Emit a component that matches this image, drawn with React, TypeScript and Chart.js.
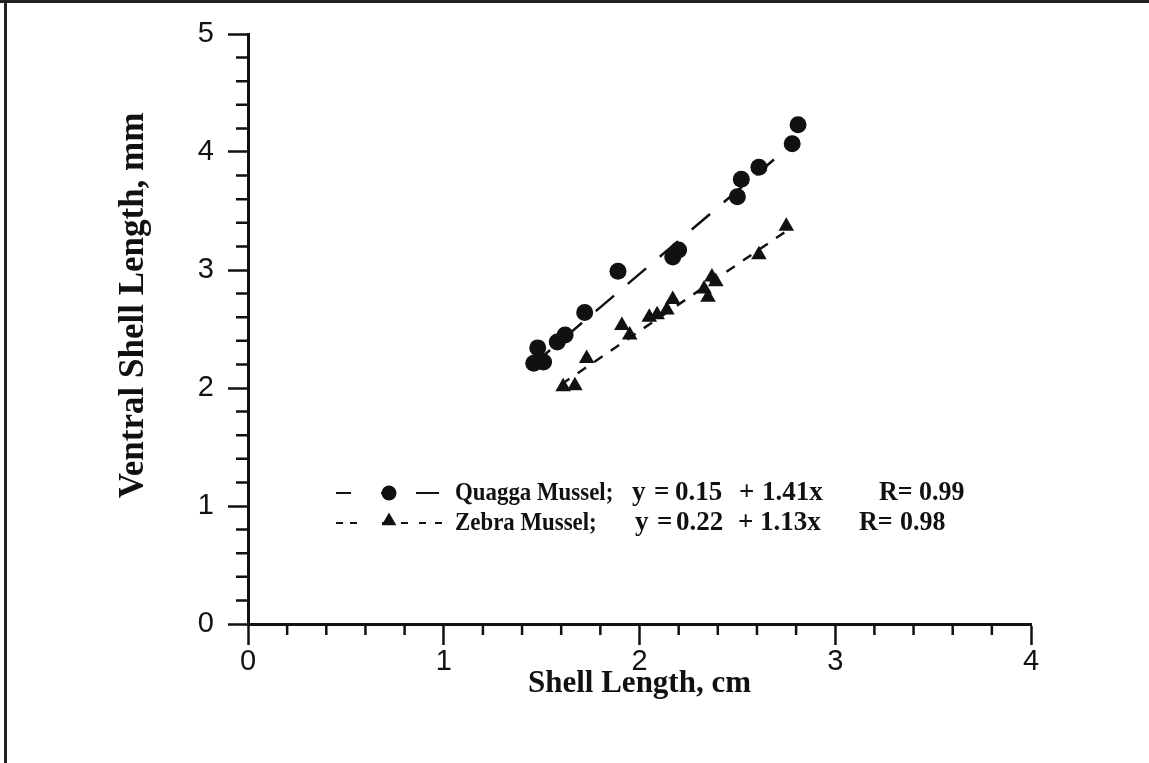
import React, { useEffect, useRef } from "react";
import { Chart, registerables } from "chart.js";

Chart.register(...registerables);

// ---- data ----
const quaggaLength = [1.46, 1.48, 1.51, 1.58, 1.62, 1.72, 1.89, 2.17, 2.2, 2.5, 2.52, 2.61, 2.78, 2.81];
const quaggaVentral = [2.21, 2.34, 2.22, 2.39, 2.45, 2.64, 2.99, 3.11, 3.17, 3.62, 3.77, 3.87, 4.07, 4.23];

const zebraLength = [1.61, 1.67, 1.73, 1.91, 1.95, 2.05, 2.09, 2.14, 2.17, 2.33, 2.35, 2.37, 2.39, 2.61, 2.75];
const zebraVentral = [2.01, 2.02, 2.25, 2.53, 2.45, 2.6, 2.62, 2.66, 2.75, 2.84, 2.77, 2.94, 2.9, 3.13, 3.37];

// regression line end points (as drawn)
const quaggaFitX = [1.45, 2.81];
const quaggaFitY = [2.19, 4.11];
const zebraFitX = [1.6, 2.75];
const zebraFitY = [2.03, 3.33];

const xMajorTicks = [0, 1, 2, 3, 4];
const yMajorTicks = [0, 1, 2, 3, 4, 5];
const minorStep = 0.2;

const xTitle = "Shell Length, cm";
const yTitle = "Ventral Shell Length, mm";

const legendNames = ["Quagga Mussel;", "Zebra Mussel;"];
const legendEquations = [
  ["y", "=", "0.15", "+", "1.41x"],
  ["y", "=", "0.22", "+", "1.13x"],
];
const legendR = [
  ["R=", "0.99"],
  ["R=", "0.98"],
];

// ---- styling / layout constants ----
const INK = "#111";
const SERIF = '"Liberation Serif", "DejaVu Serif", serif';
const SANS = '"Liberation Sans", Arial, sans-serif';

const isMajor = (v: number) => Math.abs(v - Math.round(v)) < 1e-6;
const pts = (xs: number[], ys: number[]) => xs.map((x, i) => ({ x, y: ys[i] }));

const minorTickPlugin = {
  id: "minorTicks",
  afterDraw(chart: any) {
    const ctx = chart.ctx as CanvasRenderingContext2D;
    const xs = chart.scales.x;
    const ys = chart.scales.y;
    ctx.save();
    ctx.strokeStyle = INK;
    ctx.lineWidth = 2.5;
    ctx.beginPath();
    xs.ticks.forEach((t: any) => {
      if (isMajor(t.value)) return;
      const px = xs.getPixelForValue(t.value);
      ctx.moveTo(px, xs.top);
      ctx.lineTo(px, xs.top + 11);
    });
    ys.ticks.forEach((t: any) => {
      if (isMajor(t.value)) return;
      const py = ys.getPixelForValue(t.value);
      ctx.moveTo(ys.right, py);
      ctx.lineTo(ys.right - 12, py);
    });
    ctx.stroke();
    ctx.restore();
  },
};

const yTitlePlugin = {
  id: "yTitle",
  afterDraw(chart: any) {
    const ctx = chart.ctx as CanvasRenderingContext2D;
    const ys = chart.scales.y;
    const cx = chart.chartArea.left - 114;
    const cy = ys.getPixelForValue(2.7);
    ctx.save();
    ctx.translate(cx, cy);
    ctx.rotate(-Math.PI / 2);
    ctx.fillStyle = INK;
    ctx.font = `bold 35px ${SERIF}`;
    ctx.textAlign = "center";
    ctx.textBaseline = "middle";
    ctx.fillText(yTitle, 0, 0);
    ctx.restore();
  },
};

// offsets (px) relative to the legend's left edge
const legendLayout = {
  rowGap: 30,
  nameX: 119,
  eqX: [
    [296, 318, 339, 403, 426],
    [299, 321, 340, 402, 424],
  ],
  rX: [
    [543, 583],
    [523, 564],
  ],
};

const drawText = (ctx: CanvasRenderingContext2D, t: string, x: number, y: number, sx: number) => {
  ctx.save();
  ctx.translate(x, y);
  ctx.scale(sx, 1);
  ctx.fillText(t, 0, 0);
  ctx.restore();
};

const legendPlugin = {
  id: "insideLegend",
  afterDraw(chart: any) {
    const ctx = chart.ctx as CanvasRenderingContext2D;
    const area = chart.chartArea;
    const ys = chart.scales.y;
    const left = area.left + 88;
    const y0 = ys.getPixelForValue(1.11);
    ctx.save();
    ctx.fillStyle = INK;
    ctx.strokeStyle = INK;
    ctx.lineWidth = 2;
    legendNames.forEach((name, r) => {
      const y = y0 + r * legendLayout.rowGap;
      // line sample
      const segs =
        r === 0
          ? [[0, 15], [45, 53], [80, 103]]
          : [[0, 7], [14, 21], [46, 54], [65, 72], [83, 90], [99, 106]];
      ctx.beginPath();
      segs.forEach(([a, b]) => {
        ctx.moveTo(left + a, y);
        ctx.lineTo(left + b, y);
      });
      ctx.stroke();
      // marker
      const mx = left + 53;
      ctx.beginPath();
      if (r === 0) {
        ctx.arc(mx, y, 7.5, 0, Math.PI * 2);
      } else {
        const rad = 8.5;
        for (let k = 0; k < 3; k++) {
          const a = (k * 2 * Math.PI) / 3;
          const px = mx + Math.sin(a) * rad;
          const py = y - 2 - Math.cos(a) * rad;
          if (k === 0) ctx.moveTo(px, py);
          else ctx.lineTo(px, py);
        }
        ctx.closePath();
      }
      ctx.fill();
      // text
      ctx.textAlign = "left";
      ctx.textBaseline = "middle";
      ctx.font = `bold 26px ${SERIF}`;
      drawText(ctx, name, left + legendLayout.nameX, y, 0.88);
      ctx.font = `bold 27px ${SERIF}`;
      legendEquations[r].forEach((p, i) => drawText(ctx, p, left + legendLayout.eqX[r][i], y, 1.0));
      legendR[r].forEach((p, i) => drawText(ctx, p, left + legendLayout.rX[r][i], y, 0.96));
    });
    ctx.restore();
  },
};

export default function App() {
  const ref = useRef<HTMLCanvasElement>(null);

  useEffect(() => {
    if (!ref.current) return;
    const chart = new Chart(ref.current, {
      type: "scatter",
      data: {
        datasets: [
          {
            label: "Quagga Mussel",
            data: pts(quaggaLength, quaggaVentral),
            pointStyle: "circle",
            pointRadius: 8.5,
            backgroundColor: INK,
            borderColor: INK,
            borderWidth: 0,
          },
          {
            label: "Zebra Mussel",
            data: pts(zebraLength, zebraVentral),
            pointStyle: "triangle",
            pointRadius: 9,
            backgroundColor: INK,
            borderColor: INK,
            borderWidth: 0,
          },
          {
            label: "Quagga fit",
            data: pts(quaggaFitX, quaggaFitY),
            showLine: true,
            pointRadius: 0,
            borderColor: INK,
            borderWidth: 2.5,
            borderDash: [24, 18],
          },
          {
            label: "Zebra fit",
            data: pts(zebraFitX, zebraFitY),
            showLine: true,
            pointRadius: 0,
            borderColor: INK,
            borderWidth: 2.5,
            borderDash: [10, 10],
          },
        ],
      } as any,
      options: {
        responsive: false,
        animation: false,
        events: [],
        layout: { padding: { left: 0, top: 34, right: 118, bottom: 0 } },
        plugins: { legend: { display: false }, tooltip: { enabled: false } },
        scales: {
          x: {
            type: "linear",
            min: 0,
            max: 4,
            afterFit: (s: any) => {
              s.height = 139;
            },
            ticks: {
              stepSize: minorStep,
              autoSkip: false,
              maxRotation: 0,
              color: INK,
              padding: 0,
              font: { family: SANS, size: 29 },
              callback: (v: any) => {
                const n = Number(v);
                const m = xMajorTicks.find((t) => Math.abs(t - n) < 1e-6);
                return m === undefined ? "" : String(m);
              },
            },
            grid: {
              drawOnChartArea: false,
              tickLength: 21,
              tickWidth: 2.5,
              tickColor: (c: any) => (isMajor(c.tick.value) ? INK : "rgba(0,0,0,0)"),
            },
            border: { color: INK, width: 3 },
            title: {
              display: true,
              text: xTitle,
              color: INK,
              font: { family: SERIF, size: 31, weight: "bold", lineHeight: 1 },
              padding: { top: 0, bottom: 64 },
            },
          },
          y: {
            type: "linear",
            min: 0,
            max: 5,
            afterFit: (s: any) => {
              s.width = 248;
            },
            ticks: {
              stepSize: minorStep,
              autoSkip: false,
              color: INK,
              padding: 14,
              font: { family: SANS, size: 29 },
              callback: (v: any) => {
                const n = Number(v);
                const m = yMajorTicks.find((t) => Math.abs(t - n) < 1e-6);
                return m === undefined ? "" : String(m);
              },
            },
            grid: {
              drawOnChartArea: false,
              tickLength: 20,
              tickWidth: 2.5,
              tickColor: (c: any) => (isMajor(c.tick.value) ? INK : "rgba(0,0,0,0)"),
            },
            border: { color: INK, width: 3 },
            title: { display: false },
          },
        },
      } as any,
      plugins: [minorTickPlugin, yTitlePlugin, legendPlugin],
    });
    return () => chart.destroy();
  }, []);

  return (
    <div
      style={{
        position: "fixed",
        left: 0,
        top: 0,
        width: 1149,
        height: 763,
        background: "#fff",
        overflow: "hidden",
      }}
    >
      <canvas ref={ref} width={1149} height={763} style={{ display: "block" }} />
      <div style={{ position: "absolute", left: 0, top: 0, width: 1149, height: 3, background: "#222" }} />
      <div style={{ position: "absolute", left: 4, top: 0, width: 3, height: 763, background: "#222" }} />
    </div>
  );
}
